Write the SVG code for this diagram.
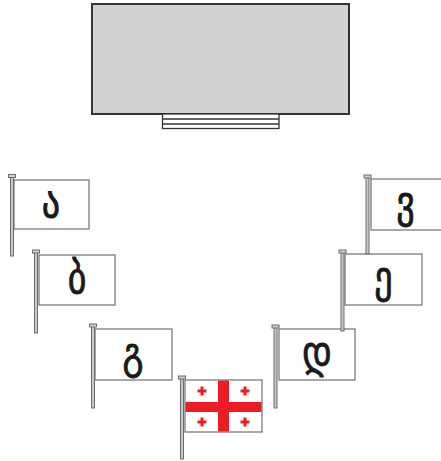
<svg xmlns="http://www.w3.org/2000/svg" width="441" height="461" viewBox="0 0 441 461">
<style>
.pole{fill:#c8c8c8;stroke:#6d6d6d;stroke-width:1}
.cap{fill:#d0d0d0;stroke:#6d6d6d;stroke-width:1}
.flag{fill:#fff;stroke:#707070;stroke-width:1.2}
.lbl{font-family:"DejaVu Sans","Noto Sans",sans-serif;font-size:44px;font-weight:normal;fill:#1a1a1a;stroke:#1a1a1a;stroke-width:0.9;text-anchor:middle}
.red{fill:#ed1c24}
</style>
<defs>
<g id="sc"><rect x="-4.5" y="-1.5" width="9" height="3" class="red"/><rect x="-1.5" y="-4.5" width="3" height="9" class="red"/></g>
</defs>
<g id="screen">
<rect x="92" y="4" width="257" height="110" fill="#d1d2d4" stroke="#333" stroke-width="2"/>
<rect x="162.5" y="114" width="116.5" height="14.5" fill="#fff" stroke="#333" stroke-width="1.3"/>
<line x1="162.5" y1="119" x2="279" y2="119" stroke="#333" stroke-width="1.3"/>
<line x1="162.5" y1="124" x2="279" y2="124" stroke="#333" stroke-width="1.3"/>
</g>
<g id="flag-a">
<rect class="pole" x="10.5" y="177" width="3" height="79"/>
<rect class="cap" x="8.5" y="174.5" width="7" height="3"/>
<rect class="flag" x="14" y="180" width="75" height="49"/>
<text class="lbl" transform="translate(51 217) scale(0.82 1)">ა</text>
</g>
<g id="flag-b">
<rect class="pole" x="34.5" y="252" width="3" height="81"/>
<rect class="cap" x="32.5" y="250" width="7" height="3"/>
<rect class="flag" x="39" y="255" width="76" height="50"/>
<text class="lbl" transform="translate(77 293) scale(0.82 1)">ბ</text>
</g>
<g id="flag-g">
<rect class="pole" x="91.5" y="326" width="3" height="82"/>
<rect class="cap" x="89.5" y="324" width="7" height="3"/>
<rect class="flag" x="95" y="329" width="77" height="51"/>
<text class="lbl" transform="translate(133 368) scale(0.82 1)">გ</text>
</g>
<g id="flag-georgia">
<rect class="pole" x="180.5" y="378" width="3" height="81"/>
<rect class="cap" x="178.5" y="376" width="7" height="3"/>
<rect class="flag" x="185" y="380" width="77" height="52"/>
<rect class="red" x="218" y="380.5" width="11" height="51"/>
<rect class="red" x="185.5" y="402" width="76" height="10"/>
<use href="#sc" x="202" y="391"/>
<use href="#sc" x="245" y="391"/>
<use href="#sc" x="202" y="422"/>
<use href="#sc" x="245" y="422"/>
</g>
<g id="flag-d">
<rect class="pole" x="274" y="327" width="3" height="81"/>
<rect class="cap" x="272" y="325" width="7" height="3"/>
<rect class="flag" x="279" y="329" width="76" height="51"/>
<text class="lbl" transform="translate(317 367) scale(0.82 1)">დ</text>
</g>
<g id="flag-e">
<rect class="pole" x="341" y="252" width="3" height="79"/>
<rect class="cap" x="339" y="250" width="7" height="3"/>
<rect class="flag" x="345" y="254" width="77" height="51"/>
<text class="lbl" transform="translate(383.5 292) scale(0.82 1)">ე</text>
</g>
<g id="flag-v">
<rect class="pole" x="366" y="177" width="3" height="77"/>
<rect class="cap" x="364" y="175" width="7" height="3"/>
<rect class="flag" x="371" y="179" width="76" height="51"/>
<text class="lbl" transform="translate(405.5 217) scale(0.82 1)">ვ</text>
</g>
</svg>
